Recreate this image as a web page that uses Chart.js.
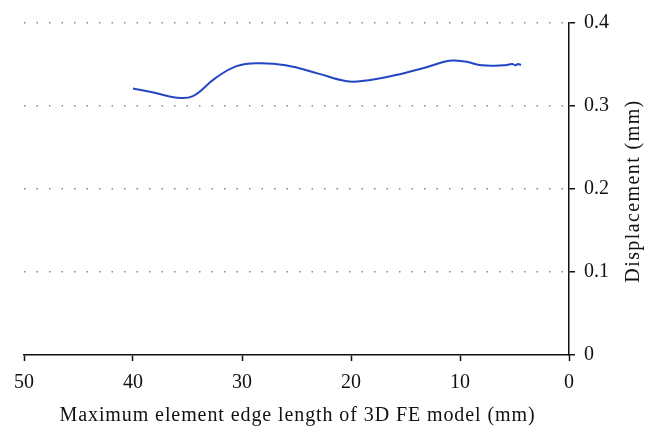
<!DOCTYPE html>
<html>
<head>
<meta charset="utf-8">
<script src="https://cdn.jsdelivr.net/npm/chart.js@4.4.0/dist/chart.umd.min.js"></script>
<style>
  html, body { margin: 0; padding: 0; background: #fff; }
  #wrap { width: 658px; height: 439px; }
</style>
</head>
<body>
<div id="wrap"><canvas id="chart"></canvas></div>
<script>
// edge length (mm) and displacement (mm)
const edgeLength = [40, 38, 36, 34.5, 32.5, 30.5, 28.5, 26, 23, 20.5, 19, 16, 13, 11, 9.5, 8, 6, 5.2, 4.9, 4.7, 4.4];
const displacement = [0.321, 0.316, 0.310, 0.312, 0.333, 0.348, 0.3515, 0.349, 0.339, 0.330, 0.330, 0.337, 0.347, 0.3545, 0.3535, 0.349, 0.349, 0.3505, 0.349, 0.3505, 0.3495];

const xTitle = 'Maximum element edge length of 3D FE model (mm)';
const yTitle = 'Displacement (mm)';

const points = edgeLength.map((x, i) => ({ x: x, y: displacement[i] }));
const family = '"Liberation Serif", "DejaVu Serif", serif';

// both axis titles drawn here: the y title reads bottom to top on the right side
// and the original typeface is a bit wider, so stretch them with letter spacing
function spacedText(ctx, text, width, x, y, angle) {
  ctx.save();
  ctx.font = '20px ' + family;
  const w = ctx.measureText(text).width;
  ctx.letterSpacing = Math.max(0, (width - w) / (text.length - 1)).toFixed(2) + 'px';
  ctx.fillStyle = '#111';
  ctx.textAlign = 'center';
  ctx.textBaseline = 'alphabetic';
  ctx.translate(x, y);
  ctx.rotate(angle);
  ctx.fillText(text, 0, 0);
  ctx.restore();
}

const titlesPlugin = {
  id: 'axisTitles',
  afterDraw(chart) {
    const ctx = chart.ctx;
    const xs = chart.scales.x;
    spacedText(ctx, xTitle, 475, (xs.left + xs.right) / 2 + 1, 421, 0);
    spacedText(ctx, yTitle, 182, 639, 191, -Math.PI / 2);
  }
};

new Chart(document.getElementById('chart'), {
  type: 'scatter',
  data: {
    datasets: [{
      data: points,
      showLine: true,
      borderColor: '#2347c4',
      borderWidth: 2,
      pointRadius: 0,
      tension: 0.4
    }]
  },
  options: {
    responsive: true,
    maintainAspectRatio: false,
    animation: false,
    layout: { padding: { left: 24, top: 23, right: 40, bottom: 34 } },
    plugins: { legend: { display: false }, tooltip: { enabled: false } },
    scales: {
      x: {
        type: 'linear',
        reverse: true,
        min: 0, max: 50,
        ticks: { stepSize: 10, color: '#111', font: { family: family, size: 20 }, padding: 10 },
        grid: { drawOnChartArea: false, tickLength: 6, tickColor: '#111', tickWidth: 1.5 },
        border: { color: '#111', width: 1.5 }
      },
      y: {
        position: 'right',
        min: 0, max: 0.4,
        ticks: { stepSize: 0.1, color: '#111', font: { family: family, size: 20 }, padding: 9,
          callback: v => v === 0 ? '0' : v.toFixed(1) },
        grid: {
          color: ctx => ctx.tick && ctx.tick.value === 0 ? 'rgba(0,0,0,0)' : '#888',
          lineWidth: 1.5,
          tickBorderDash: [],
          tickLength: 6,
          tickColor: '#111',
          tickWidth: 1.5
        },
        border: { color: '#111', width: 1.5, dash: [1.5, 11] }
      }
    }
  },
  plugins: [titlesPlugin]
});
</script>
</body>
</html>
